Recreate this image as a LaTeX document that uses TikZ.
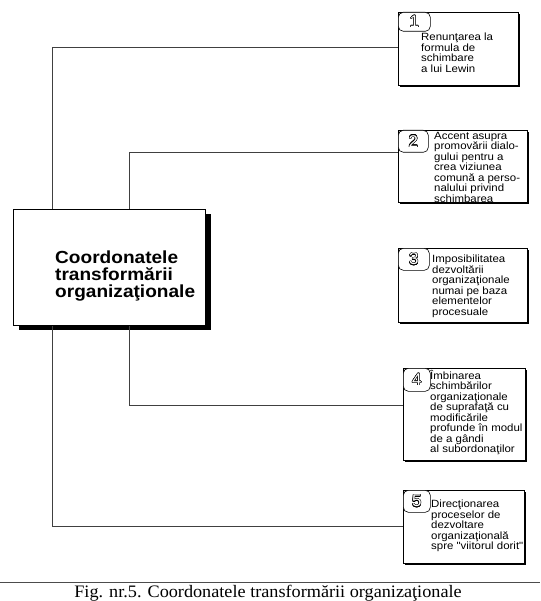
\documentclass[tikz,border=0pt]{standalone}
\usepackage{fontspec}
\setmainfont{Liberation Serif}
\setsansfont{Liberation Sans}
\newfontfamily\boxfont[FakeStretch=1.09]{Liberation Sans}
\newfontfamily\capfont[FakeStretch=1.04]{Liberation Serif}
\usepackage{contour}
\contourlength{0.45pt}
\usetikzlibrary{shadows}

\newcommand{\tabnum}[1]{\contour{black}{\textcolor{white}{#1}}}

\begin{document}
\begin{tikzpicture}[
    x=1pt, y=-1pt,
    corebox/.style={draw, line width=0.8pt, fill=white, anchor=north west,
                    drop shadow={shadow xshift=6pt, shadow yshift=-5pt,
                                 fill=black, opacity=1}},
    itembox/.style={draw, line width=0.7pt, fill=white, anchor=north west,
                    drop shadow={shadow xshift=1.2pt, shadow yshift=-1.2pt,
                                 fill=black, opacity=1}},
    tabbox/.style={draw, line width=0.6pt, fill=white, rounded corners=5pt,
                   anchor=north west, inner sep=0pt,
                   font=\sffamily\fontsize{17}{17}\selectfont},
    itemtxt/.style={anchor=north west, inner sep=0pt, align=left,
                    font=\boxfont\fontsize{10.5}{10.5}\selectfont},
    coretxt/.style={anchor=north west, inner sep=0pt, align=left,
                    font=\boxfont\bfseries\fontsize{17.5}{16.8}\selectfont},
    link/.style={draw=black!75, line width=0.8pt},
]
\useasboundingbox (0,0) rectangle (540,601);

% Central box
\node[corebox, minimum width=192, minimum height=116] (core) at (13,209) {};
\node[coretxt] (coretext) at (55,251)
    {Coordonatele\\transformării\\organizaţionale};

% Numbered boxes on the right
\node[itembox, minimum width=120, minimum height=73] (b1) at (398,12) {};
\node[itembox, minimum width=129, minimum height=72] (b2) at (398,130) {};
\node[itembox, minimum width=129, minimum height=74] (b3) at (398,248) {};
\node[itembox, minimum width=122, minimum height=92] (b4) at (403,368) {};
\node[itembox, minimum width=121, minimum height=73] (b5) at (403,490) {};

% Number tabs
\node[tabbox, minimum width=32, minimum height=19] (t1) at (b1.north west) {\tabnum{1}};
\node[tabbox, minimum width=30, minimum height=22] (t2) at (b2.north west) {\tabnum{2}};
\node[tabbox, minimum width=31, minimum height=22] (t3) at (b3.north west) {\tabnum{3}};
\node[tabbox, minimum width=27, minimum height=23] (t4) at (b4.north west) {\tabnum{4}};
\node[tabbox, minimum width=27, minimum height=22] (t5) at (b5.north west) {\tabnum{5}};

% Box texts
\node[itemtxt] (b1text) at (421,33)
    {Renunţarea la\\formula de\\schimbare\\a lui Lewin};
\node[itemtxt] (b2text) at (434,132)
    {Accent asupra\\promovării dialo-\\gului pentru a\\crea viziunea\\comună a perso-\\nalului privind\\schimbarea};
\node[itemtxt] (b3text) at (432,255)
    {Imposibilitatea\\dezvoltării\\organizaţionale\\numai pe baza\\elementelor\\procesuale};
\node[itemtxt] (b4text) at (430,370)
    {Îmbinarea\\schimbărilor\\organizaţionale\\de suprafaţă cu\\modificările\\profunde în modul\\de a gândi\\al subordonaţilor};
\node[itemtxt] (b5text) at (431,500)
    {Direcţionarea\\proceselor de\\dezvoltare\\organizaţională\\spre "viitorul dorit"};

% Connectors
\coordinate (outer) at (52,0);
\coordinate (inner) at (129,0);
\draw[link] (outer |- core.north) |- ([yshift=-35pt]b1.north west);
\draw[link] (inner |- core.north) |- ([yshift=-22pt]b2.north west);
\draw[link] (inner |- core.south) |- ([yshift=-37pt]b4.north west);
\draw[link] (outer |- core.south) |- ([yshift=-36pt]b5.north west);

% Caption
\draw[black!70, line width=1pt] (0,582) -- (540,582);
\node[anchor=base, inner sep=0pt, font=\capfont\fontsize{17.5}{17.5}\selectfont] (caption)
    at (268,597) {Fig. nr.5. Coordonatele transformării organizaţionale};
\end{tikzpicture}
\end{document}
